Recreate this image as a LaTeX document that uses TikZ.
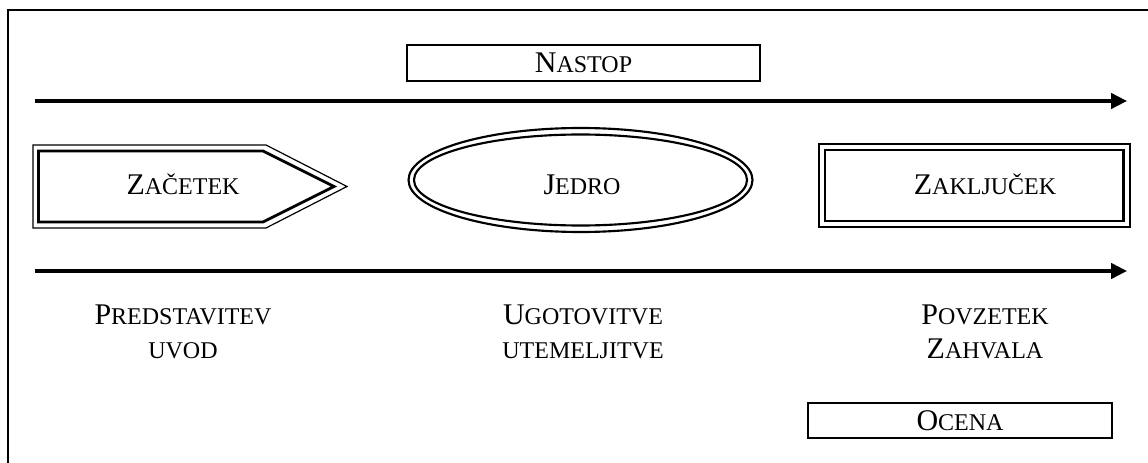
\documentclass[tikz,border=0pt]{standalone}
\usepackage{fontspec}
\setmainfont{Liberation Serif}
\usetikzlibrary{arrows.meta}
\newcommand{\bigsz}{\fontsize{22.5}{25.5}\selectfont}
\newcommand{\smsz}{\fontsize{18}{25.5}\selectfont}
\newcommand{\fsc}[2]{{\bigsz #1}{\smsz #2}}
\newcommand{\allsc}[1]{{\smsz #1}}
\tikzset{
  x=0.75pt, y=-0.75pt,
  frame/.style={line width=1.8pt},
  flow/.style={line width=2.6pt, -{Triangle[length=12pt,width=11.5pt]}},
  thinline/.style={line width=0.9pt},
  thickline/.style={line width=2.1pt},
  ovalline/.style={line width=1.6pt},
  plainbox/.style={draw, line width=1.6pt},
  lbl/.style={font=\bigsz, inner sep=0pt},
  twoline/.style={font=\bigsz, align=center, inner sep=0pt}
}
\begin{document}
\begin{tikzpicture}
\useasboundingbox (0,0) rectangle (1148,463);
% frame
\draw[frame] (8,463) -- (8,10) -- (1148,10);
% boxes
\node[plainbox, minimum width=353*0.75pt, minimum height=36*0.75pt, inner sep=0pt] (nastop) at (583.5,63) {};
\node[lbl] (nastopt) at (583.5,63) {\fsc{N}{ASTOP}};
\node[plainbox, minimum width=304*0.75pt, minimum height=35*0.75pt, inner sep=0pt] (ocena) at (960,420.5) {};
\node[lbl] (ocenat) at (960,420.5) {\fsc{O}{CENA}};
% arrows
\coordinate (a1s) at (35,101);
\coordinate (a1e) at (1127,101);
\coordinate (a2s) at (35,271);
\coordinate (a2e) at (1127,271);
\draw[flow] (a1s) -- (a1e);
\draw[flow] (a2s) -- (a2e);
% Zacetek pointer
\draw[thinline] (33,145) -- (266,145) -- (347,186.5) -- (266,228) -- (33,228) -- cycle;
\draw[thickline] (38.5,151) -- (263,151) -- (334,186.5) -- (263,222) -- (38.5,222) -- cycle;
\node[lbl] (zac) at (183,184) {\fsc{Z}{AČETEK}};
% Jedro ellipse
\draw[ovalline] (580.5,180) ellipse [x radius=172, y radius=52];
\draw[ovalline] (580.5,180) ellipse [x radius=166.5, y radius=45.5];
\node[lbl] (jedro) at (582,185) {\fsc{J}{EDRO}};
% Zakljucek box
\draw[thinline] (819,144) rectangle (1130,227);
\draw[thickline] (825,150) rectangle (1123.5,221);
\node[lbl] (zak) at (985,184) {\fsc{Z}{AKLJUČEK}};
% bottom labels
\node[twoline] (pred) at (183,332) {\fsc{P}{REDSTAVITEV}\\\allsc{UVOD}};
\node[twoline] (ugot) at (583,332) {\fsc{U}{GOTOVITVE}\\\allsc{UTEMELJITVE}};
\node[twoline] (povz) at (985,332) {\fsc{P}{OVZETEK}\\\fsc{Z}{AHVALA}};
\end{tikzpicture}
\end{document}
